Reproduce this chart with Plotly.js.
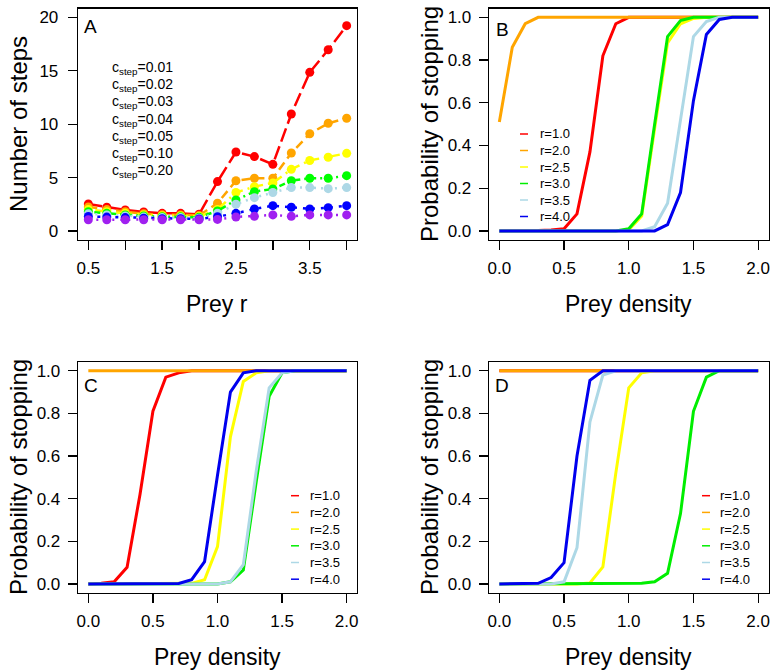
<!DOCTYPE html>
<html>
<head>
<meta charset="utf-8">
<script src="https://cdn.plot.ly/plotly-3.0.1.min.js"></script>
<style>
  html, body { margin: 0; padding: 0; background: #fff; }
  #chart { width: 775px; height: 672px; }
</style>
</head>
<body>
<div id="chart"></div>
<script>
/****************************************************************************************
* Data
****************************************************************************************/
// panel A: number of steps against prey r, one series per step cost
const preyR = [0.5, 0.75, 1.0, 1.25, 1.5, 1.75, 2.0, 2.25, 2.5, 2.75, 3.0, 3.25, 3.5, 3.75, 4.0];
const cStepLabels = ['0.01', '0.02', '0.03', '0.04', '0.05', '0.10', '0.20'];
const steps001 = [2.53, 2.22, 1.97, 1.78, 1.65, 1.65, 1.56, 4.62, 7.39, 6.96, 6.24, 10.95, 14.85, 16.97, 19.22];
const steps002 = [2.25, 2.00, 1.80, 1.62, 1.52, 1.50, 1.45, 2.60, 4.70, 4.93, 4.93, 7.30, 9.10, 10.08, 10.55];
const steps003 = [2.00, 1.80, 1.65, 1.50, 1.42, 1.40, 1.35, 2.00, 3.60, 4.15, 4.50, 5.77, 6.60, 6.90, 7.27];
const steps004 = [1.80, 1.65, 1.50, 1.40, 1.33, 1.32, 1.28, 1.87, 2.90, 3.68, 3.93, 4.70, 4.93, 4.93, 5.18];
const steps005 = [1.60, 1.50, 1.40, 1.30, 1.25, 1.25, 1.20, 1.65, 2.50, 3.12, 3.60, 4.06, 4.06, 3.96, 4.06];
const steps010 = [1.35, 1.30, 1.25, 1.20, 1.15, 1.15, 1.12, 1.34, 1.65, 2.06, 2.37, 2.22, 2.06, 2.18, 2.37];
const steps020 = [1.05, 1.05, 1.05, 1.05, 1.05, 1.05, 1.05, 1.08, 1.31, 1.37, 1.50, 1.37, 1.50, 1.50, 1.50];
const preyRTicks = [0.5, 1.5, 2.5, 3.5];

// panels B-D: probability of stopping against prey density, one series per prey r
const preyDensity = [0.0, 0.1, 0.2, 0.3, 0.4, 0.5, 0.6, 0.7, 0.8, 0.9, 1.0, 1.1, 1.2, 1.3, 1.4, 1.5, 1.6, 1.7, 1.8, 1.9, 2.0];
const rLabels = ['r=1.0', 'r=2.0', 'r=2.5', 'r=3.0', 'r=3.5', 'r=4.0'];
const panelNames = ['A', 'B', 'C', 'D'];

const probB_r10 = [0, 0, 0, 0.002, 0.004, 0.01, 0.08, 0.37, 0.82, 0.97, 1, 1, 1, 1, 1, 1, 1, 1, 1, 1, 1];
const probB_r20 = [0.51, 0.86, 0.97, 1, 1, 1, 1, 1, 1, 1, 1, 1, 1, 1, 1, 1, 1, 1, 1, 1, 1];
const probB_r25 = [0, 0, 0, 0, 0, 0, 0, 0, 0, 0, 0.005, 0.07, 0.48, 0.88, 0.97, 0.995, 1, 1, 1, 1, 1];
const probB_r30 = [0, 0, 0, 0, 0, 0, 0, 0, 0, 0, 0.01, 0.08, 0.5, 0.91, 0.985, 1, 1, 1, 1, 1, 1];
const probB_r35 = [0, 0, 0, 0, 0, 0, 0, 0, 0, 0, 0, 0, 0.02, 0.13, 0.52, 0.91, 0.98, 1, 1, 1, 1];
const probB_r40 = [0, 0, 0, 0, 0, 0, 0, 0, 0, 0, 0, 0, 0, 0.03, 0.18, 0.61, 0.92, 0.99, 1, 1, 1];

const probC_r10 = [0, 0.003, 0.01, 0.078, 0.42, 0.81, 0.97, 0.99, 1, 1, 1, 1, 1, 1, 1, 1, 1, 1, 1, 1, 1];
const probC_r20 = [1, 1, 1, 1, 1, 1, 1, 1, 1, 1, 1, 1, 1, 1, 1, 1, 1, 1, 1, 1, 1];
const probC_r25 = [0, 0, 0, 0, 0, 0, 0, 0, 0.003, 0.02, 0.175, 0.69, 0.95, 0.99, 1, 1, 1, 1, 1, 1, 1];
const probC_r30 = [0, 0, 0, 0, 0, 0, 0, 0, 0, 0, 0, 0.01, 0.065, 0.48, 0.88, 0.99, 1, 1, 1, 1, 1];
const probC_r35 = [0, 0, 0, 0, 0, 0, 0, 0, 0, 0, 0, 0.01, 0.09, 0.53, 0.92, 0.99, 1, 1, 1, 1, 1];
const probC_r40 = [0, 0, 0, 0, 0, 0, 0, 0.002, 0.02, 0.105, 0.51, 0.9, 0.99, 1, 1, 1, 1, 1, 1, 1, 1];

const probD_r10 = [1, 1, 1, 1, 1, 1, 1, 1, 1, 1, 1, 1, 1, 1, 1, 1, 1, 1, 1, 1, 1];
const probD_r20 = [1, 1, 1, 1, 1, 1, 1, 1, 1, 1, 1, 1, 1, 1, 1, 1, 1, 1, 1, 1, 1];
const probD_r25 = [0, 0, 0, 0, 0, 0, 0, 0.005, 0.08, 0.52, 0.92, 0.99, 1, 1, 1, 1, 1, 1, 1, 1, 1];
const probD_r30 = [0, 0, 0, 0, 0, 0, 0, 0, 0, 0, 0, 0.003, 0.01, 0.05, 0.33, 0.81, 0.97, 1, 1, 1, 1];
const probD_r35 = [0, 0, 0, 0, 0, 0.01, 0.17, 0.76, 0.98, 1, 1, 1, 1, 1, 1, 1, 1, 1, 1, 1, 1];
const probD_r40 = [0, 0, 0, 0.003, 0.03, 0.1, 0.6, 0.955, 1, 1, 1, 1, 1, 1, 1, 1, 1, 1, 1, 1, 1];

/****************************************************************************************
* Styles
****************************************************************************************/
const W = 775, H = 672;
const FONT = 'Liberation Sans, Arial, Helvetica, sans-serif';
const stepColors = ['#ff0000', '#ffa500', '#ffff00', '#00ff00', '#add8e6', '#0000ff', '#a020f0'];
const stepDashes = ['14px,5px', '9px,5px', '2px,5px,9px,5px', '2px,4px,6px,4px', '2px,5px', '3px,6px', '2px,6px'];
const rColors = ['#ff0000', '#ffa500', '#ffff00', '#00ee00', '#add8e6', '#0000ee'];

// pixel -> paper helpers
const fx = (p) => p / W;
const fy = (p) => 1 - p / H;

/****************************************************************************************
* Traces
****************************************************************************************/
const stepSeries = [steps001, steps002, steps003, steps004, steps005, steps010, steps020];
const probSeries = [
    [probB_r10, probB_r20, probB_r25, probB_r30, probB_r35, probB_r40],
    [probC_r10, probC_r20, probC_r25, probC_r30, probC_r35, probC_r40],
    [probD_r10, probD_r20, probD_r25, probD_r30, probD_r35, probD_r40]
];

let traces = [];
stepSeries.forEach((ys, i) => {
    traces.push({
        x: preyR, y: ys, xaxis: 'x', yaxis: 'y',
        type: 'scatter', mode: 'lines+markers',
        line: { color: stepColors[i], width: 2.5, dash: stepDashes[i] },
        marker: { color: stepColors[i], size: 9 },
        showlegend: false
    });
});
probSeries.forEach((panel, p) => {
    panel.forEach((ys, i) => {
        traces.push({
            x: preyDensity, y: ys, xaxis: 'x' + (p + 2), yaxis: 'y' + (p + 2),
            type: 'scatter', mode: 'lines',
            line: { color: rColors[i], width: 3 },
            showlegend: false
        });
    });
});

/****************************************************************************************
* Layout
****************************************************************************************/
const axisBase = {
    showline: true, mirror: true, linecolor: '#000', linewidth: 1.3,
    showgrid: false, zeroline: false,
    ticks: 'outside', ticklen: 9, tickwidth: 1.3, tickcolor: '#000',
    tickfont: { family: FONT, size: 17, color: '#000' },
    fixedrange: true
};
const leftDom = [fx(78), fx(357)];
const rightDom = [fx(489), fx(768.5)];
const topDom = [fy(239.5), fy(8.8)];
const botDom = [fy(592.5), fy(362.2)];

const densX = (anchor, dom) => Object.assign({}, axisBase, {
    domain: dom, anchor: anchor, range: [-0.08, 2.08],
    tickvals: [0, 0.5, 1, 1.5, 2], ticktext: ['0.0', '0.5', '1.0', '1.5', '2.0'], ticklabelstandoff: 4
});
const probY = (anchor, dom) => Object.assign({}, axisBase, {
    domain: dom, anchor: anchor, range: [-0.04, 1.04],
    tickvals: [0, 0.2, 0.4, 0.6, 0.8, 1], ticktext: ['0.0', '0.2', '0.4', '0.6', '0.8', '1.0'], ticklabelstandoff: 4
});

let layout = {
    width: W, height: H,
    margin: { l: 0, r: 0, t: 0, b: 0 },
    paper_bgcolor: '#fff', plot_bgcolor: '#fff',
    showlegend: false,
    font: { family: FONT, color: '#000' },
    xaxis: Object.assign({}, axisBase, {
        domain: leftDom, anchor: 'y', range: [0.36, 4.14],
        tickvals: preyRTicks, ticklabelstandoff: 4,
        // unlabelled ticks between the labelled ones
        minor: { tick0: 0.5, dtick: 0.5, ticks: 'outside', ticklen: 9, tickwidth: 1.3, tickcolor: '#000', showgrid: false }
    }),
    yaxis: Object.assign({}, axisBase, {
        domain: topDom, anchor: 'x', range: [-0.8, 20.8],
        tickvals: [0, 5, 10, 15, 20], ticklabelstandoff: 6
    }),
    xaxis2: densX('y2', rightDom), yaxis2: probY('x2', topDom),
    xaxis3: densX('y3', leftDom), yaxis3: probY('x3', botDom),
    xaxis4: densX('y4', rightDom), yaxis4: probY('x4', botDom),
    shapes: [],
    annotations: []
};

// text helper in pixel coordinates
const addText = (text, x, y, size, opts) => {
    layout.annotations.push(Object.assign({
        text: text, xref: 'paper', yref: 'paper', x: fx(x), y: fy(y),
        xanchor: 'center', yanchor: 'middle', showarrow: false,
        font: { family: FONT, size: size, color: '#000' }
    }, opts || {}));
};

// axis titles
addText('Number of steps', 18, 124, 24, { textangle: -90 });
addText('Probability of stopping', 429, 124, 24, { textangle: -90 });
addText('Probability of stopping', 18, 477, 24, { textangle: -90 });
addText('Probability of stopping', 429, 477, 24, { textangle: -90 });
addText('Prey r', 217, 304, 23);
addText('Prey density', 628, 304, 23);
addText('Prey density', 217, 657, 23);
addText('Prey density', 628, 657, 23);

// panel letters
const letterPos = [[82, 27], [494, 30], [82, 385], [493, 385]];
panelNames.forEach((n, i) => addText(n, letterPos[i][0], letterPos[i][1], 19, { xanchor: 'left' }));

// panel A legend (text only)
cStepLabels.forEach((lab, i) => {
    addText('c<sub>step</sub>=' + lab, 110, 68.3 + i * 17.07, 14, { xanchor: 'left' });
});

// panels B-D legends: short line + label
const legendPos = [
    { x0: 520, x1: 528, tx: 538, y: 134, dy: 16.5 },
    { x0: 291, x1: 299, tx: 308, y: 495.7, dy: 16.7 },
    { x0: 702, x1: 710, tx: 718, y: 495.7, dy: 16.7 }
];
legendPos.forEach((lp) => {
    rLabels.forEach((lab, i) => {
        const y = lp.y + i * lp.dy;
        layout.shapes.push({
            type: 'line', xref: 'paper', yref: 'paper',
            x0: fx(lp.x0), x1: fx(lp.x1), y0: fy(y), y1: fy(y),
            line: { color: rColors[i], width: 1.5 }
        });
        addText(lab, lp.tx, y, 13, { xanchor: 'left' });
    });
});

Plotly.newPlot('chart', traces, layout, { staticPlot: true, displayModeBar: false });
</script>
</body>
</html>
